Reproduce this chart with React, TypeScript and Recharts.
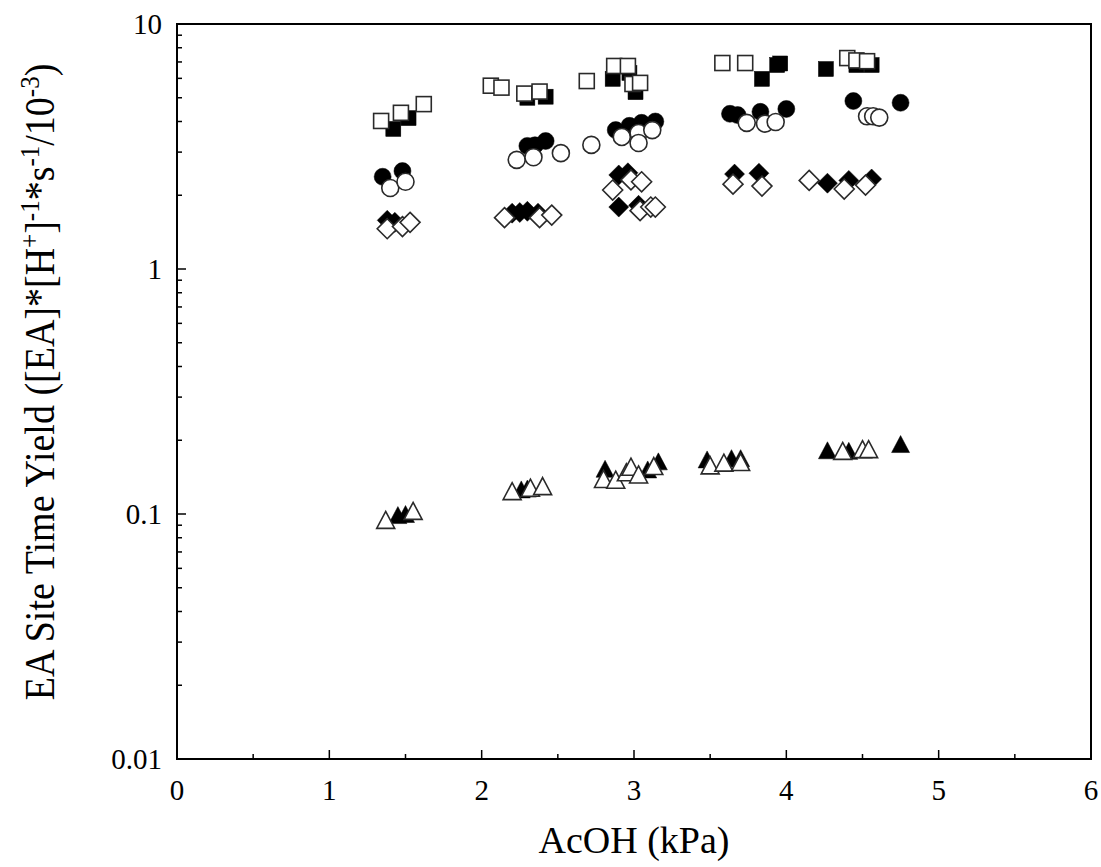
import React from "react";
import { ScatterChart, Scatter, XAxis, YAxis, ReferenceArea } from "recharts";

// ---- data (AcOH kPa, EA site time yield) ----
const filledSquareX = [1.42, 1.52, 2.3, 2.42, 2.86, 2.97, 3.01, 3.84, 3.94, 3.96, 4.26, 4.46, 4.56];
const filledSquareY = [3.73, 4.13, 5.0, 5.05, 5.97, 6.31, 5.27, 5.97, 6.8, 6.9, 6.55, 6.8, 6.8];
const openSquareX = [1.34, 1.47, 1.62, 2.06, 2.13, 2.28, 2.38, 2.69, 2.87, 2.96, 2.99, 3.04, 3.58, 3.73, 4.4, 4.46, 4.53];
const openSquareY = [4.02, 4.34, 4.71, 5.6, 5.5, 5.2, 5.3, 5.85, 6.74, 6.74, 5.69, 5.75, 6.93, 6.93, 7.26, 7.1, 7.05];

const filledCircleX = [1.35, 1.48, 2.3, 2.35, 2.42, 2.88, 2.97, 3.05, 3.14, 3.63, 3.68, 3.83, 4.0, 4.44, 4.75];
const filledCircleY = [2.38, 2.51, 3.18, 3.2, 3.33, 3.69, 3.84, 3.95, 4.0, 4.3, 4.25, 4.38, 4.5, 4.85, 4.77];
const openCircleX = [1.4, 1.5, 2.23, 2.34, 2.52, 2.72, 2.92, 3.03, 3.03, 3.12, 3.74, 3.86, 3.93, 4.53, 4.57, 4.61];
const openCircleY = [2.14, 2.27, 2.79, 2.86, 2.97, 3.21, 3.46, 3.59, 3.27, 3.69, 3.95, 3.92, 3.98, 4.2, 4.2, 4.15];

const filledDiamondX = [1.38, 1.43, 2.2, 2.25, 2.3, 2.37, 2.9, 2.96, 2.9, 3.03, 3.66, 3.82, 4.27, 4.41, 4.56];
const filledDiamondY = [1.58, 1.55, 1.69, 1.7, 1.72, 1.69, 2.42, 2.47, 1.79, 1.82, 2.44, 2.46, 2.24, 2.3, 2.33];
const openDiamondX = [1.38, 1.48, 1.53, 2.15, 2.38, 2.46, 2.86, 2.98, 3.05, 3.04, 3.11, 3.14, 3.65, 3.84, 4.15, 4.38, 4.52];
const openDiamondY = [1.46, 1.49, 1.55, 1.62, 1.62, 1.66, 2.1, 2.31, 2.27, 1.73, 1.79, 1.79, 2.22, 2.18, 2.3, 2.12, 2.2];

const filledTriangleX = [1.45, 1.5, 2.26, 2.3, 2.81, 3.09, 3.16, 3.48, 3.64, 3.7, 4.27, 4.41, 4.75];
const filledTriangleY = [0.099, 0.1, 0.126, 0.127, 0.153, 0.152, 0.164, 0.167, 0.169, 0.169, 0.182, 0.181, 0.193];
const openTriangleX = [1.37, 1.55, 2.2, 2.32, 2.4, 2.8, 2.88, 2.95, 2.98, 3.03, 3.13, 3.5, 3.59, 3.7, 4.37, 4.5, 4.54];
const openTriangleY = [0.0946, 0.103, 0.124, 0.128, 0.13, 0.139, 0.138, 0.148, 0.156, 0.145, 0.157, 0.158, 0.162, 0.163, 0.181, 0.184, 0.184];

const xTicks = [0, 0.5, 1, 1.5, 2, 2.5, 3, 3.5, 4, 4.5, 5, 5.5, 6];
const yMajor = [0.01, 0.1, 1, 10];
const yMajorLabels = ["0.01", "0.1", "1", "10"];
const yTicks = [
  0.01, 0.02, 0.03, 0.04, 0.05, 0.06, 0.07, 0.08, 0.09,
  0.1, 0.2, 0.3, 0.4, 0.5, 0.6, 0.7, 0.8, 0.9,
  1, 2, 3, 4, 5, 6, 7, 8, 9, 10,
];

const toPts = (xs: number[], ys: number[]) => xs.map((x, i) => ({ x, y: ys[i] }));

const FONT = "'Liberation Serif', 'Times New Roman', serif";
const STROKE = "#2a2a2a";

const Square = (filled: boolean) => (p: any) => {
  const s = 15;
  return (
    <rect x={p.cx - s / 2} y={p.cy - s / 2} width={s} height={s}
      fill={filled ? "#000" : "#fff"} stroke={filled ? "#000" : STROKE} strokeWidth={filled ? 0.5 : 1.6} />
  );
};
const Circle = (filled: boolean) => (p: any) => (
  <circle cx={p.cx} cy={p.cy} r={8.5}
    fill={filled ? "#000" : "#fff"} stroke={filled ? "#000" : STROKE} strokeWidth={filled ? 0.5 : 1.6} />
);
const Diamond = (filled: boolean) => (p: any) => {
  const h = 10;
  const pts = `${p.cx},${p.cy - h} ${p.cx + h},${p.cy} ${p.cx},${p.cy + h} ${p.cx - h},${p.cy}`;
  return <polygon points={pts} fill={filled ? "#000" : "#fff"} stroke={filled ? "#000" : STROKE} strokeWidth={filled ? 0.5 : 1.6} />;
};
const Triangle = (filled: boolean) => (p: any) => {
  const w = 9, h = 8.5;
  const pts = `${p.cx},${p.cy - h} ${p.cx + w},${p.cy + h} ${p.cx - w},${p.cy + h}`;
  return <polygon points={pts} fill={filled ? "#000" : "#fff"} stroke={filled ? "#000" : STROKE} strokeWidth={filled ? 0.5 : 1.6} />;
};

const XTick = (props: any) => {
  const { x, y, payload } = props;
  const v = payload.value;
  const major = Math.abs(v - Math.round(v)) < 1e-9;
  return (
    <g>
      <line x1={x} x2={x} y1={y} y2={y - (major ? 9 : 5)} stroke="#000" strokeWidth={1.5} />
      {major && (
        <text x={x} y={y + 41} textAnchor="middle" fontSize={29} fontFamily={FONT} fill="#000">
          {String(v)}
        </text>
      )}
    </g>
  );
};

const YTick = (props: any) => {
  const { x, y, payload } = props;
  const v = payload.value;
  const idx = yMajor.findIndex((m) => Math.abs(m - v) / m < 1e-6);
  const major = idx >= 0;
  return (
    <g>
      <line x1={x} x2={x + (major ? 9 : 5)} y1={y} y2={y} stroke="#000" strokeWidth={1.5} />
      {major && (
        <text x={x - 15} y={y + 10} textAnchor="end" fontSize={29} fontFamily={FONT} fill="#000">
          {yMajorLabels[idx]}
        </text>
      )}
    </g>
  );
};

const YTitle = () => (
  <text transform="translate(54,382) rotate(-90) scale(1,1.1)" textAnchor="middle" fontSize={38} fontFamily={FONT} fill="#000">
    EA Site Time Yield ([EA]*[H
    <tspan dy={-14} fontSize={25}>+</tspan>
    <tspan dy={14}>]</tspan>
    <tspan dy={-14} fontSize={25}>-1</tspan>
    <tspan dy={14}>*s</tspan>
    <tspan dy={-14} fontSize={25}>-1</tspan>
    <tspan dy={14}>/10</tspan>
    <tspan dy={-14} fontSize={25}>-3</tspan>
    <tspan dy={14}>)</tspan>
  </text>
);

const XTitle = () => (
  <text x={634} y={853} textAnchor="middle" fontSize={38} fontFamily={FONT} fill="#000">
    AcOH (kPa)
  </text>
);

export default function App() {
  return (
    <div style={{ position: "absolute", left: 0, top: 0, background: "#fff" }}>
      <ScatterChart width={1101} height={867} margin={{ top: 24, right: 10, bottom: 48, left: 77 }}>
        <XAxis type="number" dataKey="x" domain={[0, 6]} ticks={xTicks} interval={0}
          allowDataOverflow tickSize={0} tickMargin={0} height={60}
          axisLine={{ stroke: "#000", strokeWidth: 2 }} tickLine={false} tick={<XTick />}
          label={<XTitle />} />
        <YAxis type="number" dataKey="y" scale="log" domain={[0.01, 10]} ticks={yTicks} interval={0}
          allowDataOverflow tickSize={0} tickMargin={0} width={100}
          axisLine={{ stroke: "#000", strokeWidth: 2 }} tickLine={false} tick={<YTick />}
          label={<YTitle />} />
        <ReferenceArea x1={0} x2={6} y1={0.01} y2={10} fill="none" fillOpacity={0} stroke="#000" strokeWidth={2} />
        <Scatter data={toPts(filledSquareX, filledSquareY)} shape={Square(true)} isAnimationActive={false} />
        <Scatter data={toPts(openSquareX, openSquareY)} shape={Square(false)} isAnimationActive={false} />
        <Scatter data={toPts(filledCircleX, filledCircleY)} shape={Circle(true)} isAnimationActive={false} />
        <Scatter data={toPts(openCircleX, openCircleY)} shape={Circle(false)} isAnimationActive={false} />
        <Scatter data={toPts(filledDiamondX, filledDiamondY)} shape={Diamond(true)} isAnimationActive={false} />
        <Scatter data={toPts(openDiamondX, openDiamondY)} shape={Diamond(false)} isAnimationActive={false} />
        <Scatter data={toPts(filledTriangleX, filledTriangleY)} shape={Triangle(true)} isAnimationActive={false} />
        <Scatter data={toPts(openTriangleX, openTriangleY)} shape={Triangle(false)} isAnimationActive={false} />
      </ScatterChart>
    </div>
  );
}
